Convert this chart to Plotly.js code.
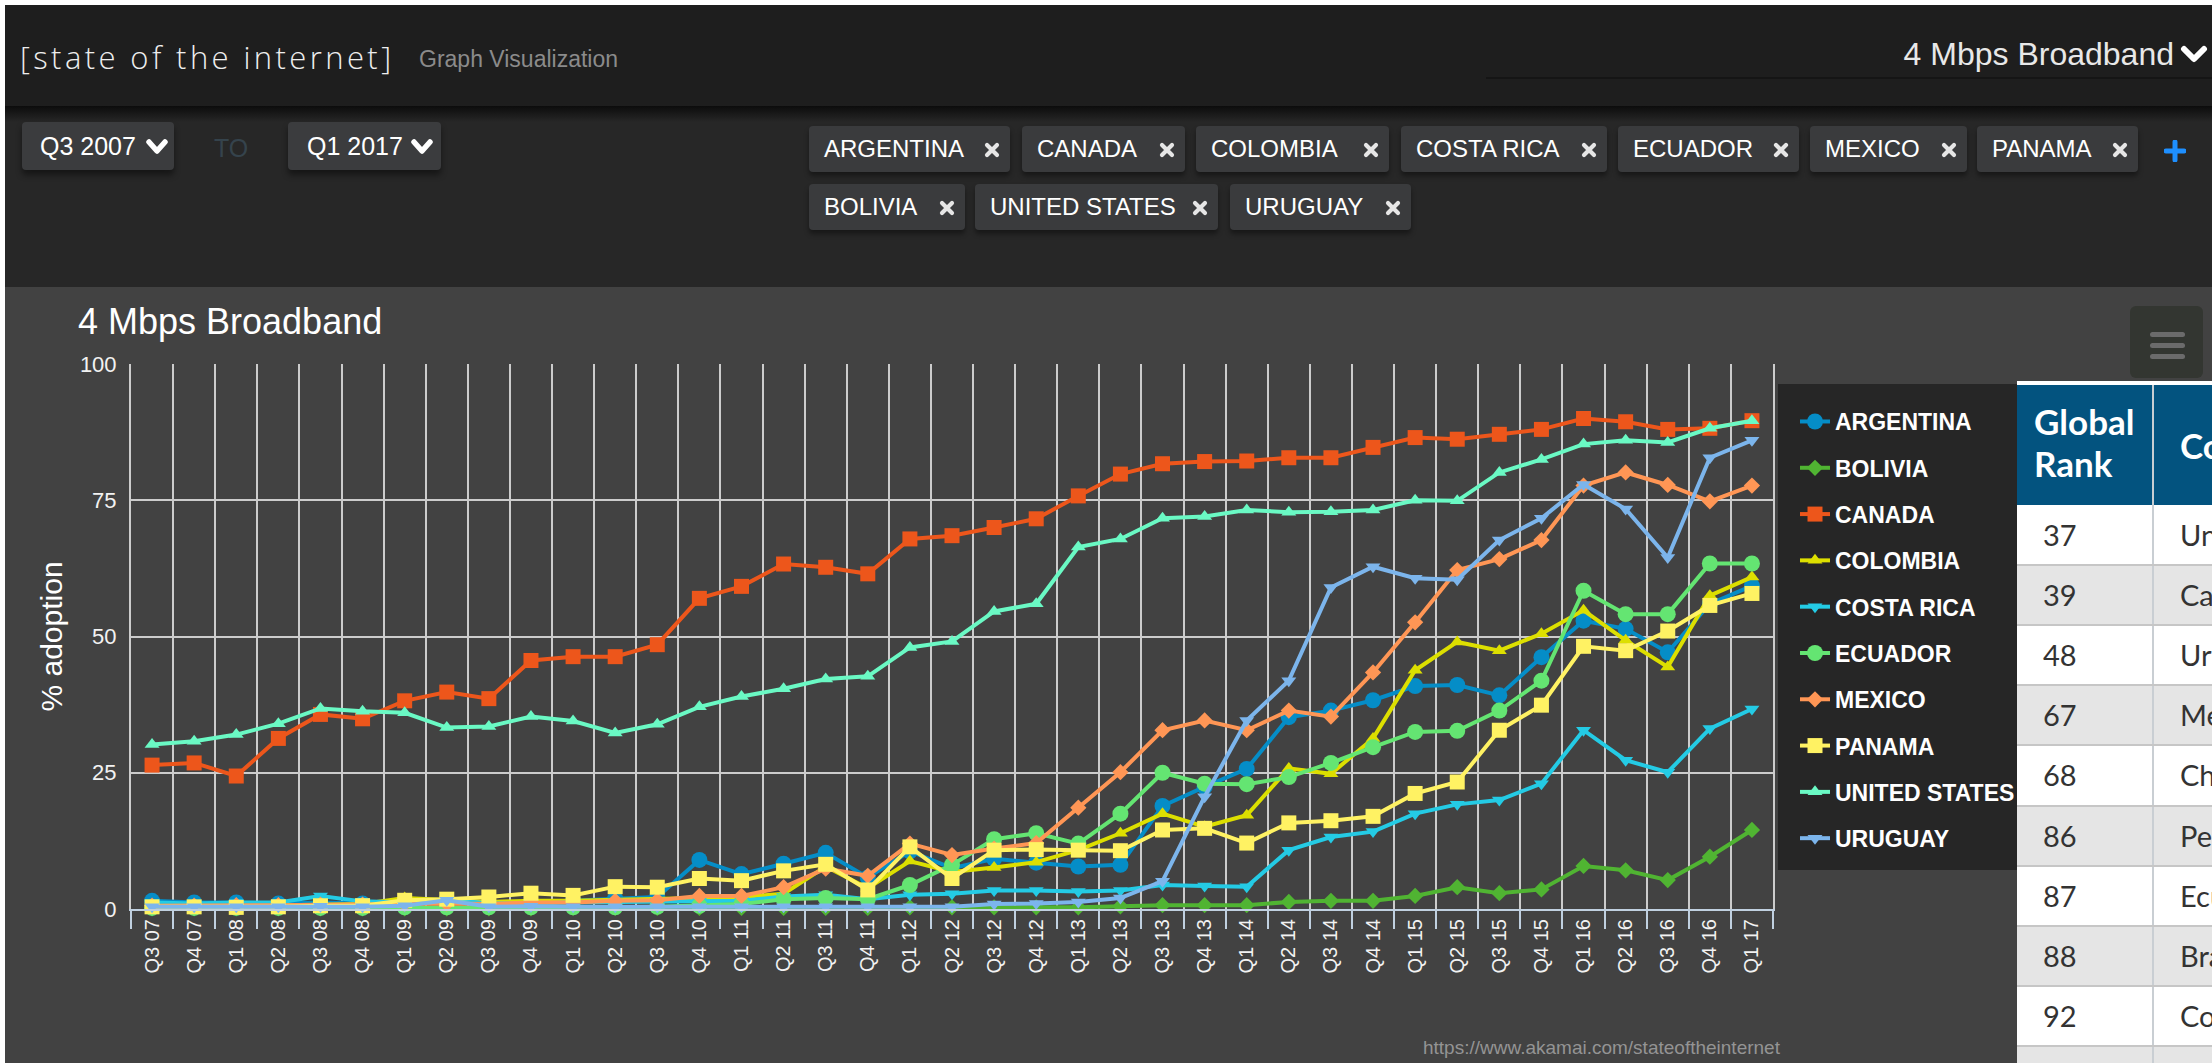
<!DOCTYPE html>
<html><head><meta charset="utf-8">
<script src="https://cdn.plot.ly/plotly-3.0.1.min.js"></script>
<style>
html,body{margin:0;padding:0;}
body{width:2212px;height:1063px;overflow:hidden;background:#fff;position:relative;font-family:"Liberation Sans",Arial,sans-serif;}
.abs{position:absolute;}
#hdr{left:5px;top:5px;width:2207px;height:101px;background:#1e1e1e;}
#flt{left:5px;top:106px;width:2207px;height:181px;background:#272727;}
#shadow{left:5px;top:106px;width:2207px;height:16px;background:linear-gradient(#0c0c0c,rgba(39,39,39,0));}
#chartbg{left:5px;top:287px;width:2207px;height:776px;background:#424242;}
#brand{left:20px;top:34px;font-family:"Open Sans",sans-serif;font-weight:300;font-size:31px;letter-spacing:3.4px;color:#eeeeee;line-height:46px;white-space:nowrap;}
#sub{left:419px;top:44px;font-size:23px;color:#8b8b8b;line-height:30px;white-space:nowrap;}
#metric{right:38px;top:33px;font-size:32px;color:#e8e8e8;line-height:42px;white-space:nowrap;}
#metricline{left:1486px;top:77px;width:726px;height:2px;background:#151515;}
.btn{background:#3b3c3e;border-radius:4px;box-shadow:0 5px 6px rgba(0,0,0,0.45);height:48px;top:122px;color:#fff;font-size:25px;line-height:48px;box-sizing:border-box;white-space:nowrap;}
.tag{background:#3a3b3d;border-radius:4px;box-shadow:0 4px 5px rgba(0,0,0,0.4);height:46px;color:#fff;font-size:24px;line-height:46px;box-sizing:border-box;padding-left:15px;white-space:nowrap;}
.tag svg{position:absolute;right:10px;top:16px;}
#to{left:214px;top:128px;font-size:25px;color:#35434c;line-height:40px;}
#menu{left:2130px;top:306px;width:73px;height:72px;background:#333631;border-radius:6px;}
.bar{left:20px;width:35px;height:5px;background:#6b6b6b;border-radius:3px;}
#tbl{left:2017px;top:381px;width:195px;height:682px;overflow:hidden;background:#fff;font-family:Lato,"Open Sans",sans-serif;}
#plot{left:5px;top:287px;width:2207px;height:776px;}
</style></head>
<body>
<div id="hdr" class="abs"></div>
<div id="flt" class="abs"></div>
<div id="shadow" class="abs"></div>
<div id="chartbg" class="abs"></div>
<div id="brand" class="abs">[state of the internet]</div>
<div id="sub" class="abs">Graph Visualization</div>
<div id="metric" class="abs">4 Mbps Broadband</div>
<svg class="abs" style="left:2180px;top:44px" width="28" height="20"><polyline points="4,5 14,15 24,5" fill="none" stroke="#fff" stroke-width="6" stroke-linecap="round" stroke-linejoin="round"/></svg>
<div id="metricline" class="abs"></div>
<div class="abs btn" style="left:22px;width:152px;padding-left:18px">Q3 2007</div>
<svg class="abs" style="left:145px;top:138px" width="24" height="18"><polyline points="4,4 12,13 20,4" fill="none" stroke="#fff" stroke-width="5.5" stroke-linecap="round" stroke-linejoin="round"/></svg>
<div id="to" class="abs">TO</div>
<div class="abs btn" style="left:288px;width:153px;padding-left:19px">Q1 2017</div>
<svg class="abs" style="left:410px;top:138px" width="24" height="18"><polyline points="4,4 12,13 20,4" fill="none" stroke="#fff" stroke-width="5.5" stroke-linecap="round" stroke-linejoin="round"/></svg>
<div id="tags"></div>
<svg class="abs" style="left:2164px;top:140px" width="22" height="22"><path d="M11,2V20M2,11H20" stroke="#1e8fff" stroke-width="5" stroke-linecap="round"/></svg>
<div id="plot" class="abs"></div>
<div id="menu" class="abs"><div class="abs bar" style="top:26px"></div><div class="abs bar" style="top:37px"></div><div class="abs bar" style="top:48px"></div></div>
<div id="tbl" class="abs"></div>
<script>
// ---- data ----
const quarters = ["Q3 07","Q4 07","Q1 08","Q2 08","Q3 08","Q4 08","Q1 09","Q2 09","Q3 09","Q4 09","Q1 10","Q2 10","Q3 10","Q4 10","Q1 11","Q2 11","Q3 11","Q4 11","Q1 12","Q2 12","Q3 12","Q4 12","Q1 13","Q2 13","Q3 13","Q4 13","Q1 14","Q2 14","Q3 14","Q4 14","Q1 15","Q2 15","Q3 15","Q4 15","Q1 16","Q2 16","Q3 16","Q4 16","Q1 17"];
const argentina = [1.5,1.2,1.2,1.0,1.2,1.0,1.0,1.2,1.0,1.2,1.5,1.9,2.2,9.0,6.4,8.3,10.3,5.8,10.6,7.5,9.2,8.5,7.8,8.1,18.9,22.4,25.7,35.2,36.4,38.3,40.9,41.1,39.2,46.2,52.9,51.4,47.1,56.0,59.3];
const bolivia = [0.1,0.1,0.1,0.1,0.1,0.1,0.1,0.1,0.1,0.1,0.2,0.2,0.2,0.2,0.2,0.2,0.2,0.2,0.3,0.3,0.3,0.3,0.3,0.5,0.7,0.7,0.7,1.3,1.5,1.5,2.4,4.0,2.9,3.6,7.9,7.1,5.3,9.6,14.5];
const canada = [26.4,26.8,24.4,31.3,35.7,34.9,38.2,39.8,38.6,45.6,46.3,46.3,48.5,57.0,59.2,63.3,62.7,61.5,67.9,68.5,70.0,71.6,75.8,79.8,81.7,82.1,82.2,82.8,82.8,84.7,86.5,86.2,87.1,88.0,90.0,89.4,88.0,88.2,89.6];
const colombia = [0.6,0.6,0.6,0.7,0.8,0.9,2.0,1.6,1.3,1.5,1.5,1.7,1.8,2.0,2.2,2.8,7.8,3.8,8.8,6.8,7.6,8.6,10.8,13.9,17.5,15.1,17.2,25.8,24.8,31.3,43.8,49.0,47.4,50.5,54.8,49.3,44.4,57.5,60.9];
const costaRica = [1.2,1.0,1.2,1.2,2.4,1.4,1.2,1.8,1.0,1.0,1.2,1.3,1.4,1.4,1.5,2.3,2.6,1.8,2.6,2.8,3.4,3.4,3.2,3.4,4.4,4.2,4.1,10.8,13.2,14.2,17.5,19.2,20.0,23.0,32.8,27.3,25.1,33.1,36.7];
const ecuador = [0.2,0.2,0.2,0.2,0.2,0.2,0.3,0.3,0.3,0.3,0.3,0.3,0.4,0.6,0.9,1.8,2.0,1.8,4.4,8.1,12.8,13.9,12.0,17.5,25.0,23.0,22.9,24.2,26.8,29.7,32.5,32.7,36.4,41.9,58.4,54.1,54.1,63.4,63.4];
const mexico = [0.6,0.6,0.7,0.7,0.8,0.8,0.9,1.0,0.9,1.2,1.2,1.5,1.6,2.4,2.4,4.0,7.4,6.1,12.0,9.9,11.1,12.1,18.6,25.1,32.8,34.6,32.8,36.4,35.3,43.4,52.6,62.2,64.2,67.7,77.7,80.1,77.8,74.8,77.7];
const panama = [0.4,0.4,0.3,0.4,0.6,0.6,1.6,1.8,2.2,2.9,2.5,4.1,4.0,5.6,5.2,7.0,8.2,3.5,11.4,5.6,10.8,10.9,10.8,10.7,14.5,14.8,12.1,15.8,16.2,17.0,21.2,23.3,32.8,37.4,48.2,47.4,51.0,55.7,57.9];
const unitedStates = [30.2,30.8,32.0,34.0,36.8,36.3,36.0,33.3,33.5,35.3,34.5,32.3,33.9,37.1,39.0,40.4,42.2,42.7,48.0,49.1,54.6,56.0,66.4,67.9,71.7,72.0,73.2,72.8,72.9,73.2,75.0,74.9,80.1,82.5,85.3,86.0,85.6,88.2,89.6];
const uruguay = [0.4,0.4,0.4,0.4,0.5,0.4,0.6,1.6,0.4,0.5,0.4,0.4,0.4,0.4,0.4,0.4,0.4,0.4,0.4,0.4,0.9,1.0,1.3,2.0,5.1,20.6,34.6,41.9,59.0,62.8,60.7,60.4,67.7,71.7,77.9,73.4,64.5,82.8,86.0];

const seriesNames = ["ARGENTINA","BOLIVIA","CANADA","COLOMBIA","COSTA RICA","ECUADOR","MEXICO","PANAMA","UNITED STATES","URUGUAY"];
const seriesValues = [argentina,bolivia,canada,colombia,costaRica,ecuador,mexico,panama,unitedStates,uruguay];
const seriesColors = ["#058DC7","#50B432","#ED561B","#DDDF00","#24CBE5","#64E572","#FF9655","#FFF263","#6AF9C4","#7CB5EC"];
const seriesSymbols = ["circle","diamond","square","triangle-up","triangle-down","circle","diamond","square","triangle-up","triangle-down"];
const symbolSizes = {"circle":16,"diamond":12.5,"square":15,"triangle-up":13,"triangle-down":13};

const tagRow1 = ["ARGENTINA","CANADA","COLOMBIA","COSTA RICA","ECUADOR","MEXICO","PANAMA"];
const tagRow2 = ["BOLIVIA","UNITED STATES","URUGUAY"];
const tableRanks = ["37","39","48","67","68","86","87","88","92"];
const tableCountries = ["United States","Canada","Uruguay","Mexico","Chile","Peru","Ecuador","Brazil","Colombia"];

// ---- filter tags (UI) ----
const tagBoxes1 = [[809,201],[1022,163],[1196,193],[1401,206],[1618,181],[1810,157],[1977,161]];
const tagBoxes2 = [[809,156],[975,243],[1230,181]];
const xIcon = '<svg width="16" height="16"><path d="M3,3L13,13M13,3L3,13" stroke="#e6e6e6" stroke-width="4.2" stroke-linecap="round"/></svg>';
let th = '';
tagRow1.forEach((t,i)=>{th += `<div class="abs tag" style="left:${tagBoxes1[i][0]}px;top:126px;width:${tagBoxes1[i][1]}px">${t}${xIcon}</div>`;});
tagRow2.forEach((t,i)=>{th += `<div class="abs tag" style="left:${tagBoxes2[i][0]}px;top:184px;width:${tagBoxes2[i][1]}px">${t}${xIcon}</div>`;});
document.getElementById('tags').innerHTML = th;

// ---- table ----
let tb = '<div class="abs" style="left:0;top:0;width:195px;height:4px;background:#fff"></div>';
tb += '<div class="abs" style="left:0;top:4px;width:195px;height:120px;background:#03537f"></div>';
tb += '<div class="abs" style="left:135px;top:4px;width:2px;height:678px;background:#c9ced3"></div>';
tb += '<div class="abs" style="left:17px;top:19px;color:#fff;font-weight:700;font-size:35px;line-height:42px">Global<br>Rank</div>';
tb += '<div class="abs" style="left:163px;top:42px;color:#fff;font-weight:700;font-size:35px;line-height:44px;white-space:nowrap">Country</div>';
for (let r=0;r<10;r++){
  const top = 124 + r*60.1;
  tb += `<div class="abs" style="left:0;top:${top}px;width:135px;height:60px;background:${r%2?'#e5e5e5':'#fff'}"></div>`;
  tb += `<div class="abs" style="left:137px;top:${top}px;width:60px;height:60px;background:${r%2?'#e5e5e5':'#fff'}"></div>`;
  if (r>0) tb += `<div class="abs" style="left:0;top:${top-1}px;width:195px;height:2px;background:#c6c6c6"></div>`;
  if (r < tableRanks.length){
    tb += `<div class="abs" style="left:26px;top:${top}px;line-height:60px;font-size:29px;color:#333">${tableRanks[r]}</div>`;
    tb += `<div class="abs" style="left:163px;top:${top}px;line-height:60px;font-size:29px;color:#333;white-space:nowrap">${tableCountries[r]}</div>`;
  }
}
document.getElementById('tbl').innerHTML = tb;

// ---- chart ----
const traces = seriesNames.map((n,i)=>({
  type:'scatter', mode:'lines+markers', name:n, x:quarters, y:seriesValues[i],
  legendgroup:'g'+i, cliponaxis:false,
  line:{color:seriesColors[i], width:4},
  marker:{symbol:seriesSymbols[i], size:symbolSizes[seriesSymbols[i]], color:seriesColors[i], line:{width:0}}
}));

const layout = {
  width:2207, height:776,
  margin:{l:126, r:439, t:77, b:154},
  paper_bgcolor:'#424242', plot_bgcolor:'#424242',
  font:{family:'"Liberation Sans", Arial, sans-serif', color:'#ffffff'},
  title:{text:'4 Mbps Broadband', font:{size:36, color:'#ffffff'}, xref:'container', x:73/2207, xanchor:'left', yref:'container', y:1-34/776, yanchor:'middle'},
  showlegend:true,
  legend:{x:1.0134, xanchor:'left', y:0.9339, yanchor:'top', bgcolor:'rgba(0,0,0,0)', borderwidth:0,
    font:{size:23, color:'#ffffff', weight:'bold'}, traceorder:'grouped', tracegroupgap:13.4, itemwidth:30},
  shapes:[{type:'rect', xref:'paper', yref:'paper', x0:1.00304, x1:1.1486, y0:0.0716, y1:0.9633, fillcolor:'#262626', line:{width:0}, layer:'below'}],
  xaxis:{type:'category', range:[-0.5,38.5], tickson:'boundaries', showgrid:true, gridcolor:'#cccccc', gridwidth:2,
    ticks:'outside', ticklen:18, tickwidth:2, tickcolor:'#c0d0e0', showline:true, linecolor:'#c0d0e0', linewidth:2,
    tickangle:-90, tickfont:{size:20, color:'#f2f2f2'}, fixedrange:true, automargin:false},
  yaxis:{range:[0,100], tickvals:[0,25,50,75,100], showgrid:true, gridcolor:'#cccccc', gridwidth:2, zeroline:false,
    showline:true, mirror:true, linecolor:'#cccccc', linewidth:2, ticks:'', ticklabelstandoff:8,
    tickfont:{size:22, color:'#f2f2f2'}, automargin:false,
    title:{text:'% adoption', font:{size:30, color:'#ffffff'}, standoff:8}},
  annotations:[{text:'https://www.akamai.com/stateoftheinternet', xref:'paper', yref:'paper', x:1.0061, xanchor:'right', y:-0.255, yanchor:'middle', showarrow:false, font:{size:19, color:'#949494'}}]
};
Plotly.newPlot('plot', traces, layout, {displayModeBar:false, responsive:false});
</script>
</body></html>
